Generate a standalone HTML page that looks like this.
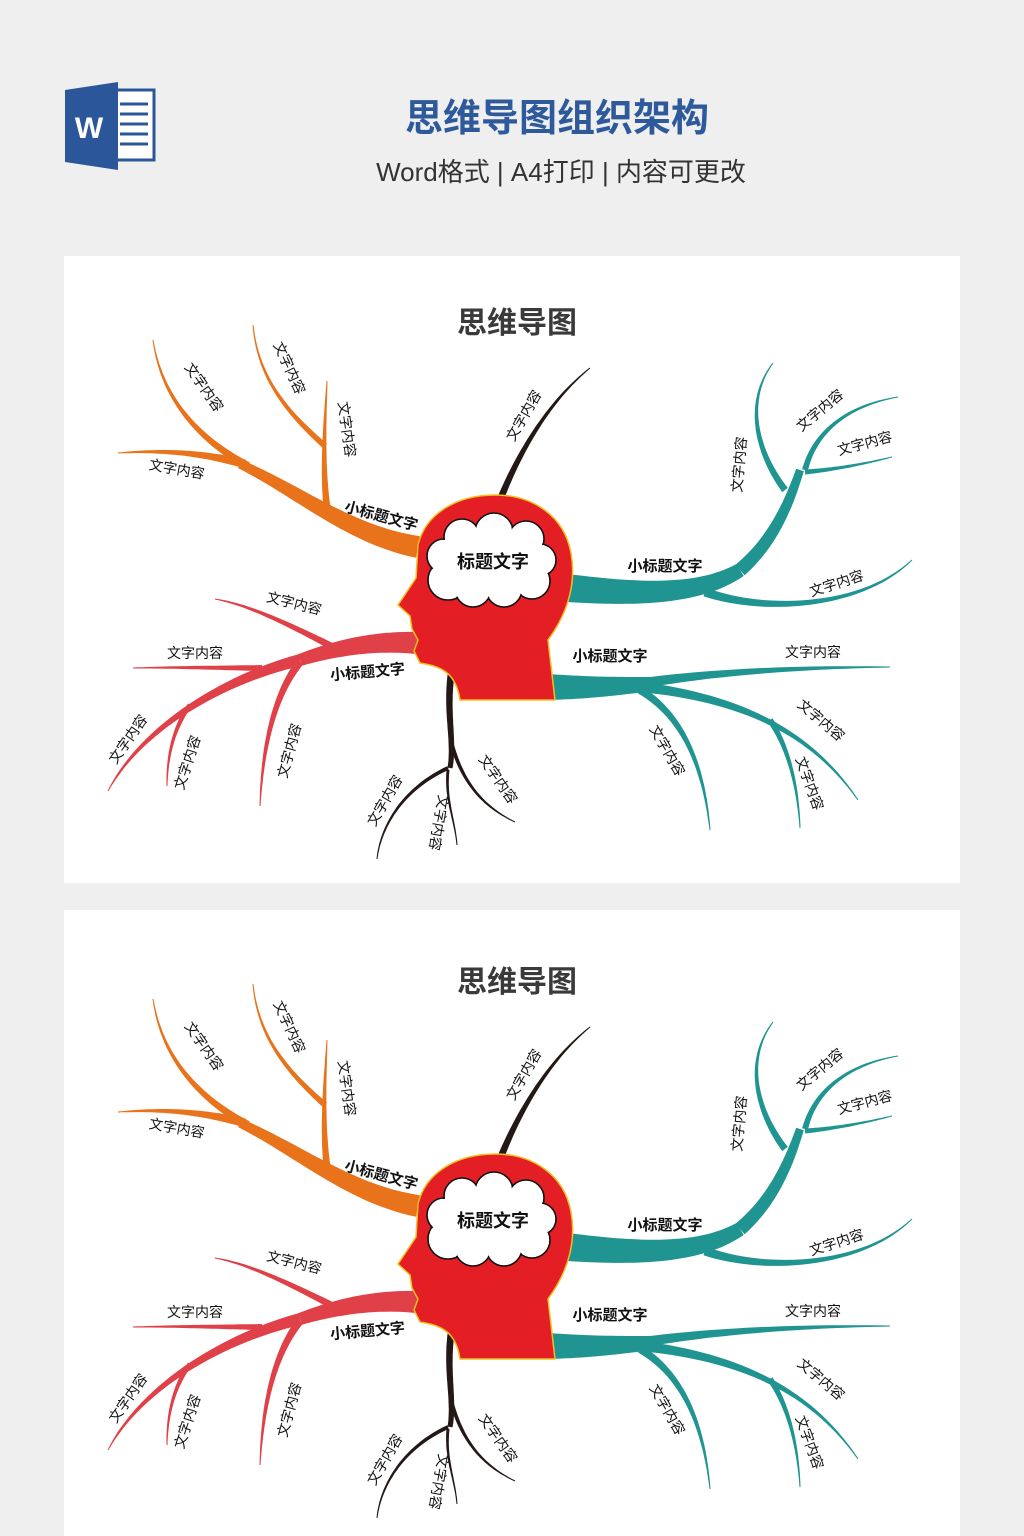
<!DOCTYPE html>
<html><head><meta charset="utf-8"><style>
body{margin:0;width:1024px;height:1536px;background:#efefef;overflow:hidden;font-family:"Liberation Sans","Noto Sans CJK SC",sans-serif}
svg{position:absolute;left:0;top:0}
</style></head><body>
<svg width="1024" height="1536" viewBox="0 0 1024 1536" xmlns="http://www.w3.org/2000/svg" font-family="Liberation Sans, Noto Sans CJK SC, sans-serif">
<rect x="64" y="256" width="896" height="627" fill="#fff"/>
<rect x="64" y="910" width="896" height="626" fill="#fff"/>
<rect x="110" y="90" width="44" height="70" fill="#fff" stroke="#2b579a" stroke-width="3"/>
<g stroke="#2b579a" stroke-width="3"><line x1="120" y1="104" x2="148" y2="104"/><line x1="120" y1="114" x2="148" y2="114"/><line x1="120" y1="124" x2="148" y2="124"/><line x1="120" y1="134" x2="148" y2="134"/><line x1="120" y1="144" x2="148" y2="144"/></g>
<polygon points="65,90 118,82 118,170 65,162" fill="#2b579a"/>
<text x="89" y="138" font-size="30" font-weight="bold" fill="#fff" text-anchor="middle">W</text>
<text x="557" y="131" font-size="38" font-weight="bold" fill="#2e5a9c" text-anchor="middle">思维导图组织架构</text>
<text x="561" y="181" font-size="26" fill="#333" text-anchor="middle">Word格式 | A4打印 | 内容可更改</text>

<g id="map">
<text x="517" y="333" font-size="30" font-weight="bold" fill="#3a3a3a" text-anchor="middle">思维导图</text>
<g id="br"></g>
<path d="M460,700 L555,700 L548,640 C570,610 576,580 571,553 C564,515 532,495 495,495 C455,495 425,515 418,545 L416,578 L398,605 L410,616 L412,629 L418,640 L414,651 L420,663 C440,666 456,672 460,700 Z" fill="#e31e24" stroke="#f0c020" stroke-width="1.5"/>
<g stroke="#111" stroke-width="1.6" fill="#fff">
<circle cx="448" cy="580" r="20"/><circle cx="444" cy="556" r="17"/><circle cx="462" cy="537" r="18"/><circle cx="494" cy="532" r="19"/><circle cx="526" cy="539" r="18"/><circle cx="540" cy="560" r="16"/><circle cx="532" cy="581" r="18"/><circle cx="504" cy="589" r="18"/><circle cx="473" cy="589" r="18"/></g>
<g fill="#fff"><circle cx="448" cy="580" r="19"/><circle cx="444" cy="556" r="16"/><circle cx="462" cy="537" r="17"/><circle cx="494" cy="532" r="18"/><circle cx="526" cy="539" r="17"/><circle cx="540" cy="560" r="15"/><circle cx="532" cy="581" r="17"/><circle cx="504" cy="589" r="17"/><circle cx="473" cy="589" r="17"/><ellipse cx="492" cy="562" rx="48" ry="28"/></g>
<text x="493" y="568" font-size="18" font-weight="bold" fill="#111" text-anchor="middle">标题文字</text>
<g font-size="14" fill="#111" text-anchor="middle">
<text transform="translate(200,390) rotate(55)">文字内容</text>
<text transform="translate(285,370) rotate(65)">文字内容</text>
<text transform="translate(342,430) rotate(82)">文字内容</text>
<text transform="translate(176,474) rotate(10)">文字内容</text>
<text transform="translate(528,418) rotate(-60)">文字内容</text>
<text transform="translate(744,465) rotate(-85)">文字内容</text>
<text transform="translate(823,414) rotate(-40)">文字内容</text>
<text transform="translate(866,448) rotate(-15)">文字内容</text>
<text transform="translate(838,588) rotate(-18)">文字内容</text>
<text transform="translate(813,657)">文字内容</text>
<text transform="translate(818,724) rotate(40)">文字内容</text>
<text transform="translate(805,785) rotate(70)">文字内容</text>
<text transform="translate(663,753) rotate(60)">文字内容</text>
<text transform="translate(293,608) rotate(14)">文字内容</text>
<text transform="translate(195,658)">文字内容</text>
<text transform="translate(132,742) rotate(-55)">文字内容</text>
<text transform="translate(192,764) rotate(-72)">文字内容</text>
<text transform="translate(294,752) rotate(-75)">文字内容</text>
<text transform="translate(494,782) rotate(55)">文字内容</text>
<text transform="translate(389,803) rotate(-60)">文字内容</text>
<text transform="translate(434,822) rotate(100)">文字内容</text>
</g>
<g font-size="15" font-weight="bold" fill="#111" text-anchor="middle">
<text transform="translate(380,521) rotate(15)">小标题文字</text>
<text x="665" y="571">小标题文字</text>
<text x="610" y="661">小标题文字</text>
<text transform="translate(368,677) rotate(-5)">小标题文字</text>
</g>
</g>
<use href="#map" transform="translate(0,659)"/>
</svg>
<script>
var O='#e8731b',R='#e04047',T='#1f9490',K='#231815';
var B=[
[O,[418,547,350,535,300,492,240,464],22,9],[O,[245,464,200,452,160,450,118,453],9,1],
[O,[248,466,200,440,162,400,153,340],8,1],[O,[327,508,322,465,325,420,327,381],7,1],[O,[325,446,290,415,258,380,253,325],6,1],
[R,[417,643,370,640,330,650,300,660],22,12],[R,[300,660,220,680,140,730,108,791],12,1],
[R,[335,648,290,625,250,605,215,599],7,1],[R,[262,668,220,668,180,667,133,668],6,1],
[R,[300,662,270,700,262,760,260,806],8,1],[R,[190,705,172,730,167,760,167,786],5,1],
[K,[452,668,445,710,455,740,450,768],7,5],[K,[452,745,465,790,490,810,515,822],4,1],
[K,[448,768,400,790,380,830,377,859],4,1],[K,[448,770,445,800,455,820,457,845],3,1],
[K,[500,500,520,450,550,400,590,368],7,1],
[T,[567,588,640,595,700,595,740,570],28,14],[T,[740,570,775,540,790,500,800,470],14,8],
[T,[785,490,755,450,745,400,773,363],7,1],[T,[805,470,815,430,850,405,898,397],6,1],
[T,[805,472,830,470,860,465,892,457],5,1],[T,[705,592,760,612,860,610,912,560],9,1],
[T,[548,687,590,688,620,686,652,684],26,14],[T,[650,682,720,672,800,667,890,667],10,1],
[T,[650,688,740,700,810,730,858,800],10,1],[T,[770,720,790,750,798,790,800,828],6,1],
[T,[640,690,690,720,705,780,710,830],8,1]];
var g=document.getElementById('br'),ns='http://www.w3.org/2000/svg';
B.forEach(function(b){var p=b[1],L=[],Rr=[],n=30;
for(var i=0;i<=n;i++){var t=i/n,u=1-t;
var x=u*u*u*p[0]+3*u*u*t*p[2]+3*u*t*t*p[4]+t*t*t*p[6],y=u*u*u*p[1]+3*u*u*t*p[3]+3*u*t*t*p[5]+t*t*t*p[7];
var dx=3*u*u*(p[2]-p[0])+6*u*t*(p[4]-p[2])+3*t*t*(p[6]-p[4]),dy=3*u*u*(p[3]-p[1])+6*u*t*(p[5]-p[3])+3*t*t*(p[7]-p[5]);
var l=Math.hypot(dx,dy)||1,w=(b[2]+(b[3]-b[2])*t)/2,nx=-dy/l*w,ny=dx/l*w;
L.push((x+nx).toFixed(1)+','+(y+ny).toFixed(1));Rr.unshift((x-nx).toFixed(1)+','+(y-ny).toFixed(1));}
var e=document.createElementNS(ns,'polygon');e.setAttribute('points',L.concat(Rr).join(' '));e.setAttribute('fill',b[0]);g.appendChild(e);});
</script>
</body></html>
